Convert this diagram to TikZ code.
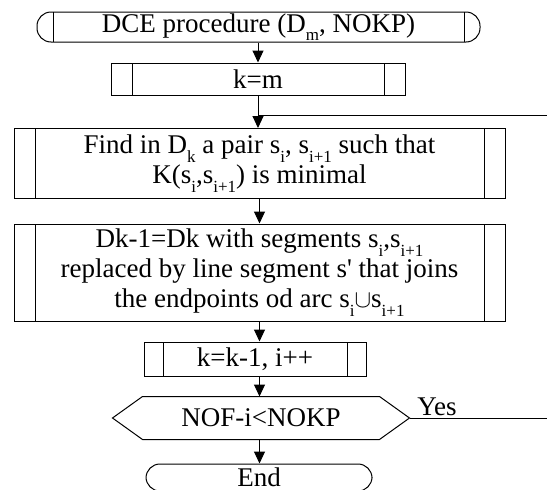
\documentclass[tikz,border=0pt]{standalone}
\usepackage{fontspec}
\setmainfont{Liberation Serif}
\usetikzlibrary{arrows.meta}

% lowered, smaller index text
\newcommand\lo[1]{\raisebox{-0.32em}{\fontsize{17}{17}\selectfont #1}}

\tikzset{
  flow/.style={draw=black, line width=1pt, inner sep=0pt, align=center,
    font=\fontsize{27}{30}\selectfont},
  subbox/.style={flow, rectangle,
    path picture={
      \draw[line width=1pt]
        ([xshift=#1]path picture bounding box.north west) --
        ([xshift=#1]path picture bounding box.south west)
        ([xshift=-#1]path picture bounding box.north east) --
        ([xshift=-#1]path picture bounding box.south east);}},
  terminal/.style={flow, rectangle, rounded corners=14pt},
  arr/.style={line width=1pt, -{Triangle[length=12pt,width=11pt]}},
  link/.style={line width=1pt},
}

\begin{document}
\begin{tikzpicture}[x=1pt, y=-1pt]
\useasboundingbox (0,0) rectangle (547,490);

% start terminal with inner bars
\node[terminal, minimum width=443pt, minimum height=30pt,
  path picture={
    \draw[line width=1pt]
      ([xshift=16pt]path picture bounding box.north west) --
      ([xshift=16pt]path picture bounding box.south west)
      ([xshift=-16pt]path picture bounding box.north east) --
      ([xshift=-16pt]path picture bounding box.south east);}]
  (start) at (258.5,27) {DCE procedure (D\lo{m}, NOKP)};

\node[subbox=21pt, minimum width=294pt, minimum height=32pt]
  (km) at (258,79) {k=m};

\node[subbox=21pt, minimum width=491pt, minimum height=70pt]
  (find) at (259.5,163.5)
  {Find in D\lo{k} a pair s\lo{i}, s\lo{i+1} such that\\
   K(s\lo{i},s\lo{i+1}) is minimal};

\node[subbox=21pt, minimum width=491pt, minimum height=97pt]
  (dk) at (259.5,272.5)
  {Dk-1=Dk with segments s\lo{i},s\lo{i+1}\\
   replaced by line segment s\textquotesingle{} that joins\\
   the endpoints od arc s\lo{i}$\cup$s\lo{i+1}};

\node[subbox=19pt, minimum width=222pt, minimum height=34pt]
  (kk) at (255,359) {k=k-1, i++};

% decision (hexagon drawn around its node)
\node[flow, draw=none, minimum width=296pt, minimum height=42pt]
  (dec) at (261,418) {NOF-i<NOKP};
\draw[line width=1pt] (dec.west) -- ([xshift=30pt]dec.north west)
  -- ([xshift=-30pt]dec.north east) -- (dec.east)
  -- ([xshift=-30pt]dec.south east) -- ([xshift=30pt]dec.south west)
  -- cycle;

\node[terminal, minimum width=226pt, minimum height=27pt]
  (end) at (259,477.5) {End};

% connectors
\coordinate (loopR) at (547,115);
\coordinate (yesR) at (547,418);

\draw[arr] (start.south -| km.north) -- (km.north);
\draw[arr] (km.south) -- (km.south |- find.north);
\draw[link] (loopR) -- (loopR -| km.south);
\draw[arr] (find.south) -- (dk.north);
\draw[arr] (dk.south) -- (dk.south |- kk.north);
\draw[arr] (dk.south |- kk.south) -- (dk.south |- dec.north);
\draw[arr] (dk.south |- dec.south) -- (dk.south |- end.north);
\draw[link] (dec.east) -- node[pos=0.2, above, font=\fontsize{27}{30}\selectfont,
  inner sep=2pt] {Yes} (yesR);
\end{tikzpicture}
\end{document}
